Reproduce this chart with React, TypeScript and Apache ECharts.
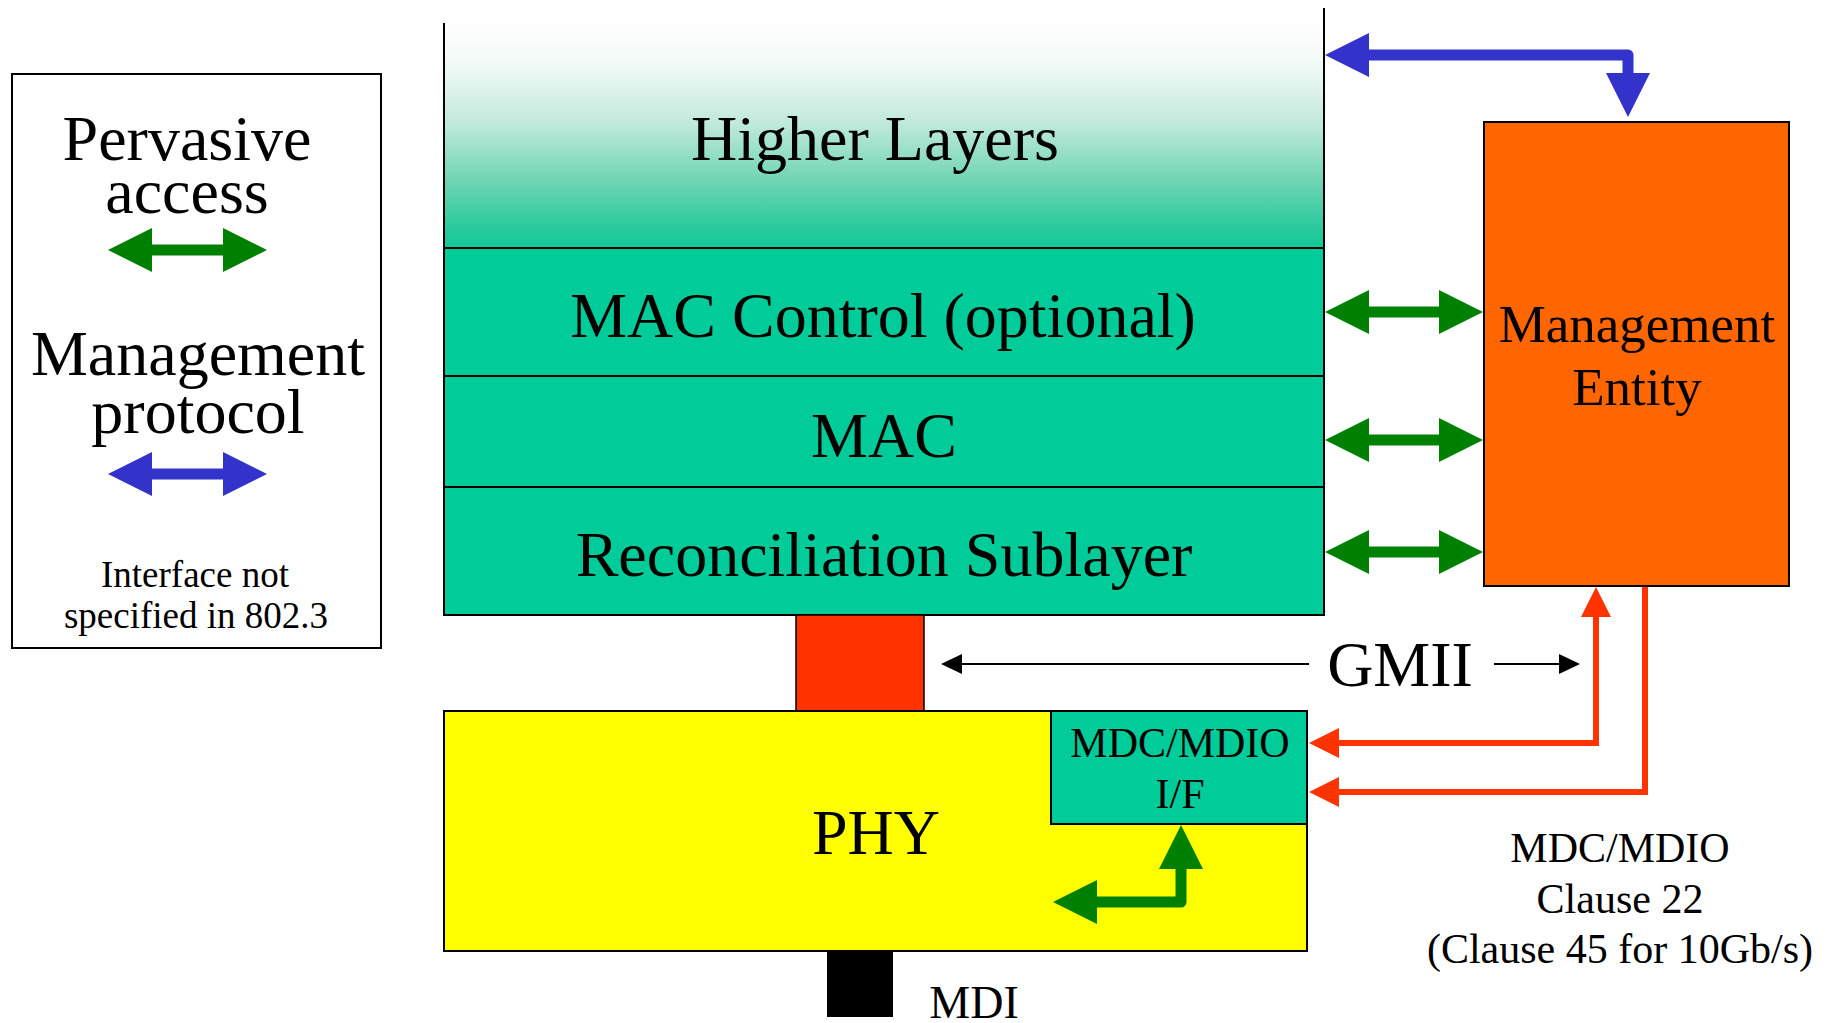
import React, { useEffect, useRef } from "react";
import * as echarts from "echarts";

const W = 1837;
const H = 1023;
const FONT = '"Liberation Serif", "Times New Roman", Times, serif';

// ---------- boxes: [x0, y0, x1, y1] in diagram units ----------
const boxNames = [
  "legend",
  "higherLayers",
  "macControl",
  "mac",
  "reconciliation",
  "managementEntity",
  "gmiiConnector",
  "phy",
  "mdcMdioIf",
  "mdi",
];
const boxRects: number[][] = [
  [12, 74, 381, 648],
  [444, 23, 1324, 248],
  [444, 248, 1324, 376],
  [444, 376, 1324, 487],
  [444, 487, 1324, 615],
  [1484, 122, 1789, 586],
  [796, 615, 924, 711],
  [444, 711, 1307, 951],
  [1051, 711, 1307, 824],
  [827, 951, 893, 1017],
];
const boxKinds = ["plain", "gradient", "teal", "teal", "teal", "orange", "red", "yellow", "teal", "black"];

// ---------- plain segments (Higher Layers side rules) ----------
const segments: number[][] = [
  [444, 23, 444, 248],
  [1324, 8, 1324, 248],
];

// ---------- arrows: polyline points, head placement, kind ----------
const arrowPaths: number[][][] = [
  [[108, 250], [267, 250]], // legend: pervasive access
  [[108, 474], [267, 474]], // legend: management protocol
  [[1325, 55], [1628, 55], [1628, 117]], // higher layers <-> management
  [[1325, 312], [1483, 312]],
  [[1325, 440], [1483, 440]],
  [[1325, 552], [1483, 552]],
  [[1053, 902], [1181, 902], [1181, 825]], // inside PHY
  [[1309, 743], [1596, 743], [1596, 587]], // MDC/MDIO red 1
  [[1645, 587], [1645, 792], [1309, 792]], // MDC/MDIO red 2
  [[941, 664], [1309, 664]], // GMII left
  [[1494, 664], [1580, 664]], // GMII right
];
const arrowHeads = ["both", "both", "both", "both", "both", "both", "both", "both", "end", "start", "end"];
const arrowKinds = ["green", "blue", "blue", "green", "green", "green", "green", "red", "red", "thin", "thin"];

// ---------- texts: [x, baseline] ----------
const textStrings = [
  "Pervasive",
  "access",
  "Management",
  "protocol",
  "Interface not",
  "specified in 802.3",
  "Higher Layers",
  "MAC Control (optional)",
  "MAC",
  "Reconciliation Sublayer",
  "Management",
  "Entity",
  "GMII",
  "PHY",
  "MDC/MDIO",
  "I/F",
  "MDI",
  "MDC/MDIO",
  "Clause 22",
  "(Clause 45 for 10Gb/s)",
];
const textAnchors: number[][] = [
  [187, 160],
  [187, 213],
  [198, 375],
  [198, 433],
  [195, 587],
  [196, 628],
  [875, 160],
  [883, 337],
  [884, 457],
  [884, 576],
  [1637, 342],
  [1637, 405],
  [1400, 686],
  [876, 854],
  [1180, 757],
  [1180, 808],
  [974, 1018],
  [1620, 862],
  [1620, 913],
  [1620, 963],
];
const textSizes = [64, 64, 64, 64, 37, 37, 64, 64, 64, 64, 53, 53, 64, 64, 42, 42, 46, 42, 42, 42];

const arrowStyles: Record<string, any> = {
  green: { color: "#008000", w: 11, hl: 44, hw: 22, join: "round" },
  blue: { color: "#3333CC", w: 11, hl: 44, hw: 22, join: "round" },
  red: { color: "#FF3300", w: 6, hl: 30, hw: 15, join: "miter" },
  thin: { color: "#000000", w: 2, hl: 21, hw: 10, join: "miter" },
};

function boxStyle(kind: string): any {
  const stroke = "#000000";
  switch (kind) {
    case "plain":
      return { fill: "#ffffff", stroke, lineWidth: 2 };
    case "gradient":
      return {
        fill: new echarts.graphic.LinearGradient(0, 0, 0, 1, [
          { offset: 0, color: "#ffffff" },
          { offset: 0.2, color: "#f0f9f5" },
          { offset: 0.45, color: "#bfe9da" },
          { offset: 0.7, color: "#6fd5b3" },
          { offset: 0.9, color: "#2ccb9d" },
          { offset: 1, color: "#10c897" },
        ]),
        stroke: null,
        lineWidth: 0,
      };
    case "teal":
      return { fill: "#00CC99", stroke, lineWidth: 2 };
    case "orange":
      return { fill: "#FF6600", stroke, lineWidth: 2 };
    case "red":
      return { fill: "#FF3300", stroke, lineWidth: 1.5 };
    case "yellow":
      return { fill: "#FFFF00", stroke, lineWidth: 2 };
    case "black":
      return { fill: "#000000", stroke: null, lineWidth: 0 };
  }
  return { fill: "#fff" };
}

function buildArrow(pts: number[][], st: any, heads: string) {
  const shaft = pts.map((q) => q.slice());
  const children: any[] = [];
  const headPoly = (tip: number[], from: number[]) => {
    const dx = tip[0] - from[0];
    const dy = tip[1] - from[1];
    const len = Math.hypot(dx, dy) || 1;
    const ux = dx / len;
    const uy = dy / len;
    const bx = tip[0] - ux * st.hl;
    const by = tip[1] - uy * st.hl;
    const px = -uy;
    const py = ux;
    return {
      type: "polygon",
      shape: {
        points: [
          [tip[0], tip[1]],
          [bx + px * st.hw, by + py * st.hw],
          [bx - px * st.hw, by - py * st.hw],
        ],
      },
      style: { fill: st.color },
    };
  };
  const shorten = (a: number[], b: number[]) => {
    const dx = b[0] - a[0];
    const dy = b[1] - a[1];
    const len = Math.hypot(dx, dy) || 1;
    const d = st.hl - 1;
    return [a[0] + (dx / len) * d, a[1] + (dy / len) * d];
  };
  const n = pts.length;
  if (heads === "both" || heads === "start") {
    children.push(headPoly(pts[0], pts[1]));
    shaft[0] = shorten(pts[0], pts[1]);
  }
  if (heads === "both" || heads === "end") {
    children.push(headPoly(pts[n - 1], pts[n - 2]));
    shaft[n - 1] = shorten(pts[n - 1], pts[n - 2]);
  }
  children.unshift({
    type: "polyline",
    shape: { points: shaft },
    style: { stroke: st.color, lineWidth: st.w, fill: null, lineJoin: st.join, lineCap: "butt" },
  });
  return { type: "group", children };
}

export default function App() {
  const ref = useRef<HTMLDivElement>(null);
  useEffect(() => {
    document.body.style.margin = "0";
    if (!ref.current) return;
    const chart = echarts.init(ref.current, null, { renderer: "svg" });
    const option: any = {
      animation: false,
      backgroundColor: "#ffffff",
      grid: { left: 0, right: 0, top: 0, bottom: 0 },
      xAxis: { type: "value", min: 0, max: W, show: false },
      yAxis: { type: "value", min: 0, max: H, inverse: true, show: false },
      series: [
        {
          name: "boxes",
          type: "custom",
          coordinateSystem: "cartesian2d",
          silent: true,
          clip: false,
          z: 1,
          data: boxRects.map((b, i) => ({ name: boxNames[i], value: b })),
          renderItem: (params: any, api: any) => {
            const b = boxRects[params.dataIndex];
            const p0 = api.coord([b[0], b[1]]);
            const p1 = api.coord([b[2], b[3]]);
            return {
              type: "rect",
              shape: { x: p0[0], y: p0[1], width: p1[0] - p0[0], height: p1[1] - p0[1] },
              style: boxStyle(boxKinds[params.dataIndex]),
            };
          },
        },
        {
          name: "segments",
          type: "custom",
          coordinateSystem: "cartesian2d",
          silent: true,
          clip: false,
          z: 2,
          data: segments,
          renderItem: (params: any, api: any) => {
            const s = segments[params.dataIndex];
            const a = api.coord([s[0], s[1]]);
            const b = api.coord([s[2], s[3]]);
            return {
              type: "line",
              shape: { x1: a[0], y1: a[1], x2: b[0], y2: b[1] },
              style: { stroke: "#000", lineWidth: 2 },
            };
          },
        },
        {
          name: "arrows",
          type: "custom",
          coordinateSystem: "cartesian2d",
          silent: true,
          clip: false,
          z: 3,
          data: arrowPaths.map((p) => p[0]),
          renderItem: (params: any, api: any) => {
            const i = params.dataIndex;
            const pts = arrowPaths[i].map((q) => api.coord(q));
            return buildArrow(pts, arrowStyles[arrowKinds[i]], arrowHeads[i]);
          },
        },
        {
          name: "texts",
          type: "custom",
          coordinateSystem: "cartesian2d",
          silent: true,
          clip: false,
          z: 4,
          data: textAnchors,
          renderItem: (params: any, api: any) => {
            const i = params.dataIndex;
            const p = api.coord(textAnchors[i]);
            const size = textSizes[i];
            return {
              type: "text",
              style: {
                text: textStrings[i],
                x: p[0],
                y: p[1] - 0.3375 * size,
                fill: "#000000",
                fontSize: size,
                fontFamily: FONT,
                align: "center",
                verticalAlign: "middle",
              },
            };
          },
        },
      ],
    };
    chart.setOption(option);
    return () => chart.dispose();
  }, []);
  return (
    <div
      ref={ref}
      style={{ position: "absolute", left: 0, top: 0, width: W, height: H }}
    />
  );
}
